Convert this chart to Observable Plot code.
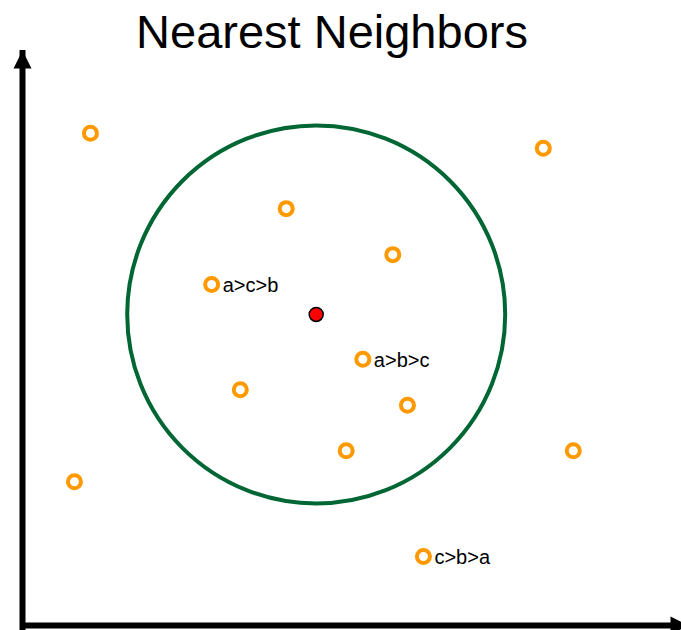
<!DOCTYPE html>
<html>
<head>
<meta charset="utf-8">
<script src="https://cdn.jsdelivr.net/npm/d3@7"></script>
<script src="https://cdn.jsdelivr.net/npm/@observablehq/plot@0.6"></script>
<style>
  html, body { margin: 0; padding: 0; background: #fff; }
  #chart svg { display: block; }
</style>
</head>
<body>
<div id="chart"></div>
<script>
// ---- data ----
const title = "Nearest Neighbors";
const xDomain = [0, 100];
const yDomain = [0, 100];
const pointX = [10.2, 78.2, 39.6, 55.6, 28.4, 51.1, 32.7, 57.8, 48.6, 82.7, 7.8, 60.2];
const pointY = [85.6, 83.0, 72.5, 64.5, 59.3, 46.3, 41.0, 38.3, 30.4, 30.4, 25.0, 12.0];
const pointLabel = ["", "", "", "", "a>c>b", "a>b>c", "", "", "", "", "", "c>b>a"];
const queryX = [44.1];
const queryY = [54.1];

// ---- tables built from the arrays ----
const points = pointX.map((x, i) => ({x, y: pointY[i], label: pointLabel[i]}));
const query = queryX.map((x, i) => ({x, y: queryY[i]}));
const yAxisLine = [{x: xDomain[0], y1: yDomain[0], y2: yDomain[1]}];
const xAxisLine = [{y: yDomain[0], x1: xDomain[0], x2: xDomain[1]}];
const arrowHeads = [
  {x: xDomain[0], y: yDomain[1], rotate: 0},
  {x: xDomain[1], y: yDomain[0], rotate: 90}
];

// filled arrowhead: tip at the anchor point, pointing up
const arrowSymbol = {
  draw(context, size) {
    const r = Math.sqrt(size / Math.PI);
    context.moveTo(0, 0);
    context.lineTo(r, 2 * r);
    context.lineTo(-r, 2 * r);
    context.closePath();
  }
};

const font = "'Liberation Sans', Arial, Helvetica, sans-serif";

const chart = Plot.plot({
  width: 681,
  height: 630,
  marginTop: 50,
  marginLeft: 22,
  marginRight: 0,
  marginBottom: 5,
  style: {background: "#fff", fontFamily: font},
  x: {domain: xDomain, range: [22, 688], axis: null},
  y: {domain: yDomain, range: [625, 50], axis: null},
  marks: [
    Plot.ruleX(yAxisLine, {x: "x", y1: "y1", y2: "y2", stroke: "#000", strokeWidth: 6, insetTop: 12}),
    Plot.ruleY(xAxisLine, {y: "y", x1: "x1", x2: "x2", stroke: "#000", strokeWidth: 6, insetRight: 12}),
    Plot.dot(arrowHeads, {x: "x", y: "y", rotate: "rotate", symbol: arrowSymbol, r: 9, fill: "#000", stroke: "none"}),
    Plot.dot(query, {x: "x", y: "y", r: 189, fill: "none", stroke: "#006633", strokeWidth: 4}),
    Plot.dot(points, {x: "x", y: "y", r: 6.5, fill: "#fff", stroke: "#FF9900", strokeWidth: 4}),
    Plot.dot(query, {x: "x", y: "y", r: 7, fill: "#FF0000", stroke: "#000", strokeWidth: 1.5}),
    Plot.text(points.filter(d => d.label), {x: "x", y: "y", text: "label", textAnchor: "start", dx: 11, dy: 1, fontSize: 20, fill: "#000", fontFamily: font}),
    Plot.text([title], {frameAnchor: "top", text: d => d, lineAnchor: "bottom", dx: -20, dy: -3, fontSize: 47, fill: "#000", fontFamily: font})
  ]
});
document.getElementById("chart").appendChild(chart);
</script>
</body>
</html>
